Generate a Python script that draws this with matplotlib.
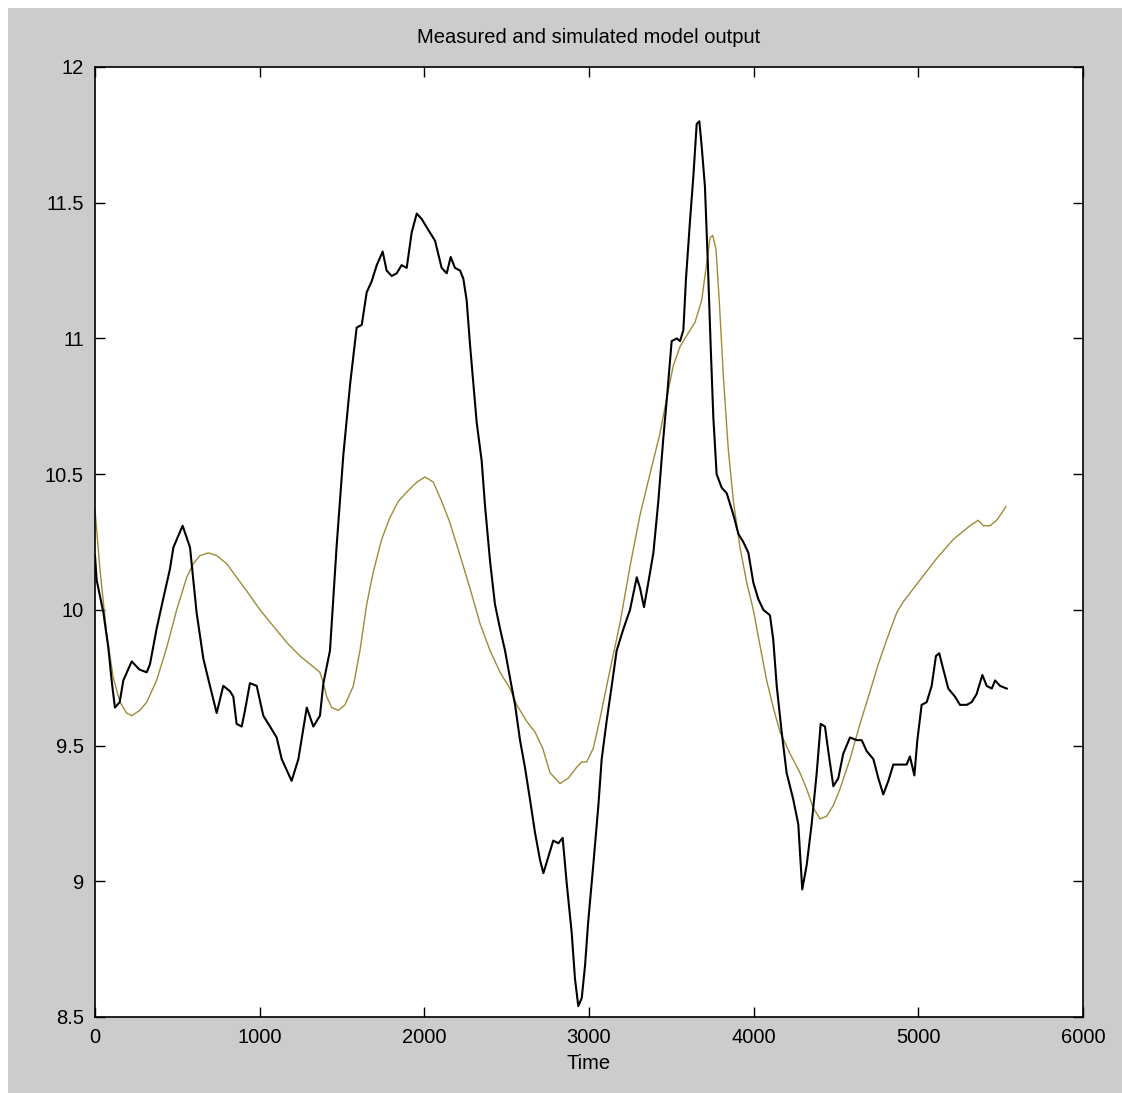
import matplotlib
matplotlib.use("Agg")
import matplotlib.pyplot as plt
from matplotlib.patches import Rectangle
from matplotlib.ticker import FixedLocator, FuncFormatter

# ---------------- data ----------------
t_meas = [0, 10, 51, 81, 101, 121, 150, 172, 223, 270, 314, 334, 374, 414, 455, 476, 532, 577, 617,
          658, 698, 739, 779, 820, 840, 860, 891, 911, 941, 982, 1022, 1063, 1103, 1134, 1164, 1194,
          1235, 1286, 1326, 1366, 1387, 1427, 1468, 1508, 1549, 1589, 1620, 1650, 1680, 1711, 1747,
          1771, 1802, 1832, 1862, 1893, 1923, 1954, 1984, 2024, 2065, 2105, 2136, 2160, 2186, 2217,
          2237, 2257, 2277, 2298, 2318, 2348, 2369, 2399, 2429, 2460, 2490, 2520, 2551, 2581, 2611,
          2642, 2672, 2702, 2723, 2753, 2783, 2814, 2840, 2865, 2895, 2915, 2935, 2956, 2976, 2995,
          3026, 3057, 3077, 3107, 3138, 3168, 3209, 3249, 3290, 3310, 3334, 3360, 3391, 3421, 3451,
          3476, 3502, 3533, 3553, 3573, 3589, 3613, 3634, 3654, 3670, 3684, 3704, 3721, 3739, 3755,
          3775, 3806, 3836, 3877, 3907, 3937, 3968, 3998, 4028, 4059, 4099, 4119, 4140, 4170, 4200,
          4241, 4271, 4295, 4322, 4352, 4383, 4407, 4433, 4453, 4484, 4514, 4544, 4585, 4626, 4656,
          4686, 4727, 4757, 4787, 4818, 4848, 4889, 4929, 4949, 4976, 4994, 5020, 5051, 5081, 5107,
          5127, 5152, 5182, 5223, 5253, 5294, 5324, 5354, 5389, 5415, 5446, 5466, 5496, 5537]
y_meas = [10.20, 10.11, 9.99, 9.86, 9.74, 9.64, 9.66, 9.74, 9.81, 9.78, 9.77, 9.80, 9.93, 10.04, 10.15,
          10.23, 10.31, 10.23, 9.99, 9.82, 9.72, 9.62, 9.72, 9.70, 9.68, 9.58, 9.57, 9.63, 9.73, 9.72,
          9.61, 9.57, 9.53, 9.45, 9.41, 9.37, 9.45, 9.64, 9.57, 9.61, 9.73, 9.85, 10.24, 10.57, 10.83,
          11.04, 11.05, 11.17, 11.21, 11.27, 11.32, 11.25, 11.23, 11.24, 11.27, 11.26, 11.39, 11.46,
          11.44, 11.40, 11.36, 11.26, 11.24, 11.30, 11.26, 11.25, 11.22, 11.14, 10.98, 10.83, 10.69,
          10.55, 10.38, 10.18, 10.02, 9.93, 9.85, 9.75, 9.65, 9.52, 9.42, 9.30, 9.18, 9.08, 9.03, 9.09,
          9.15, 9.14, 9.16, 8.99, 8.81, 8.64, 8.54, 8.57, 8.69, 8.85, 9.06, 9.28, 9.45, 9.59, 9.72, 9.85,
          9.93, 10.00, 10.12, 10.08, 10.01, 10.10, 10.21, 10.40, 10.63, 10.80, 10.99, 11.00, 10.99,
          11.03, 11.22, 11.43, 11.60, 11.79, 11.80, 11.71, 11.56, 11.29, 10.97, 10.71, 10.50, 10.45,
          10.43, 10.35, 10.28, 10.25, 10.21, 10.10, 10.04, 10.00, 9.98, 9.89, 9.72, 9.55, 9.40, 9.30,
          9.21, 8.97, 9.06, 9.21, 9.40, 9.58, 9.57, 9.48, 9.35, 9.38, 9.47, 9.53, 9.52, 9.52, 9.48,
          9.45, 9.38, 9.32, 9.37, 9.43, 9.43, 9.43, 9.46, 9.39, 9.52, 9.65, 9.66, 9.72, 9.83, 9.84,
          9.78, 9.71, 9.68, 9.65, 9.65, 9.66, 9.69, 9.76, 9.72, 9.71, 9.74, 9.72, 9.71]

t_sim = [0, 30, 71, 111, 152, 192, 223, 273, 314, 374, 435, 496, 557, 597, 638, 688, 739, 800, 860,
         921, 1002, 1083, 1164, 1245, 1326, 1366, 1387, 1407, 1437, 1478, 1518, 1569, 1609, 1650,
         1690, 1741, 1791, 1842, 1903, 1954, 2004, 2055, 2105, 2156, 2217, 2277, 2338, 2399, 2460,
         2520, 2561, 2621, 2672, 2719, 2763, 2824, 2874, 2925, 2956, 2986, 3026, 3067, 3128, 3188,
         3249, 3310, 3370, 3431, 3472, 3512, 3553, 3593, 3644, 3684, 3711, 3735, 3751, 3771, 3791,
         3816, 3846, 3877, 3917, 3958, 3998, 4038, 4079, 4119, 4160, 4221, 4281, 4322, 4362, 4403,
         4444, 4484, 4524, 4585, 4646, 4707, 4757, 4808, 4869, 4909, 5010, 5112, 5213, 5314, 5364,
         5395, 5435, 5476, 5532]
y_sim = [10.37, 10.15, 9.91, 9.75, 9.66, 9.62, 9.61, 9.63, 9.66, 9.74, 9.86, 10.00, 10.12, 10.17,
         10.20, 10.21, 10.20, 10.17, 10.12, 10.07, 10.00, 9.94, 9.88, 9.83, 9.79, 9.77, 9.73, 9.68,
         9.64, 9.63, 9.65, 9.72, 9.85, 10.02, 10.14, 10.26, 10.34, 10.40, 10.44, 10.47, 10.49, 10.47,
         10.40, 10.32, 10.20, 10.08, 9.95, 9.85, 9.77, 9.71, 9.65, 9.59, 9.55, 9.49, 9.40, 9.36, 9.38,
         9.42, 9.44, 9.44, 9.49, 9.60, 9.78, 9.95, 10.16, 10.35, 10.50, 10.65, 10.78, 10.90, 10.97,
         11.01, 11.06, 11.14, 11.26, 11.37, 11.38, 11.33, 11.14, 10.86, 10.59, 10.40, 10.23, 10.10,
         10.00, 9.87, 9.74, 9.64, 9.55, 9.47, 9.40, 9.34, 9.27, 9.23, 9.24, 9.28, 9.34, 9.45, 9.58,
         9.70, 9.80, 9.89, 9.99, 10.03, 10.11, 10.19, 10.26, 10.31, 10.33, 10.31, 10.31, 10.33, 10.38]

x_ticks = [0, 1000, 2000, 3000, 4000, 5000, 6000]
y_ticks = [8.5, 9, 9.5, 10, 10.5, 11, 11.5, 12]
title_text = "Measured and simulated model output"
xlabel_text = "Time"

# ---------------- figure ----------------
W, H = 1122, 1093
fig = plt.figure(figsize=(W / 100, H / 100), dpi=100, facecolor="white")
fig.patches.append(Rectangle((8 / W, 0), 1 - 8 / W, 1 - 8 / H, transform=fig.transFigure,
                             facecolor="#cccccc", edgecolor="none", zorder=-10))

ax = fig.add_axes([95 / W, 1 - 1017 / H, (1083 - 95) / W, (1017 - 67) / H])
ax.set_facecolor("white")

ax.plot(t_meas, y_meas, color="black", lw=1.5, zorder=3)
ax.plot(t_sim, y_sim, color="#9c8c38", lw=1.0, zorder=2)

ax.set_xlim(0, 6000)
ax.set_ylim(8.5, 12)
ax.xaxis.set_major_locator(FixedLocator(x_ticks))
ax.yaxis.set_major_locator(FixedLocator(y_ticks))
ax.yaxis.set_major_formatter(FuncFormatter(lambda v, p: "%g" % v))
ax.xaxis.set_major_formatter(FuncFormatter(lambda v, p: "%g" % v))

fam = ["Liberation Sans", "DejaVu Sans"]
ax.tick_params(axis="both", direction="in", length=7, width=1.0, colors="black",
               top=True, right=True, labelsize=14.5, pad=8)
for lab in ax.get_xticklabels() + ax.get_yticklabels():
    lab.set_family(fam)
for s in ax.spines.values():
    s.set_linewidth(1.2)
    s.set_color("black")

ax.set_title(title_text, fontsize=14.5, family=fam, pad=17)
ax.set_xlabel(xlabel_text, fontsize=14.5, family=fam, labelpad=5)

fig.savefig("out.png", dpi=100, facecolor=fig.get_facecolor())
